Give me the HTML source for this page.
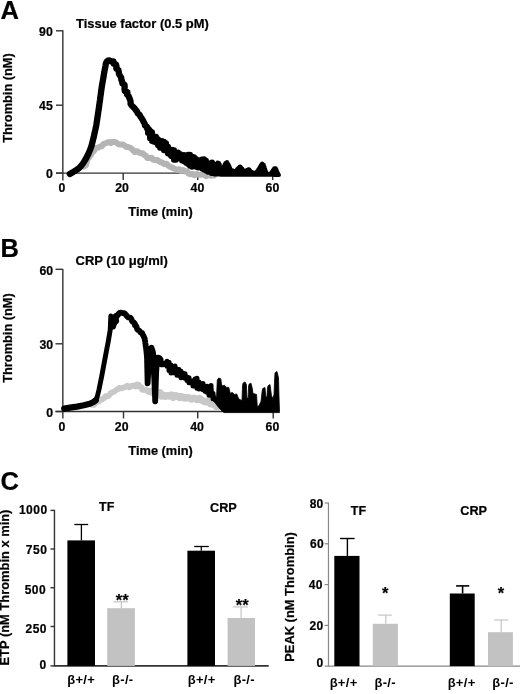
<!DOCTYPE html>
<html><head><meta charset="utf-8"><style>
html,body{margin:0;padding:0;background:#fff;}
svg{display:block;filter:grayscale(1);}
text{font-family:"Liberation Sans",sans-serif;font-weight:bold;fill:#000;stroke:#000;stroke-width:0.22px;}
</style></head><body>
<svg width="520" height="694" viewBox="0 0 520 694">
<text x="0.6" y="19.0" font-size="25.5" text-anchor="start" >A</text>
<text x="76" y="27.9" font-size="12.95" text-anchor="start" >Tissue factor (0.5 pM)</text>
<line x1="62.85" y1="30.3" x2="62.85" y2="180.5" stroke="#333" stroke-width="1.4"/>
<line x1="56" y1="30.8" x2="62.85" y2="30.8" stroke="#333" stroke-width="1.4"/>
<line x1="56" y1="105.2" x2="62.85" y2="105.2" stroke="#333" stroke-width="1.4"/>
<line x1="56" y1="173.1" x2="62.85" y2="173.1" stroke="#333" stroke-width="1.4"/>
<line x1="56" y1="173.1" x2="278" y2="173.1" stroke="#333" stroke-width="1.4"/>
<line x1="123.2" y1="173.1" x2="123.2" y2="180" stroke="#333" stroke-width="1.4"/>
<line x1="197.7" y1="173.1" x2="197.7" y2="180" stroke="#333" stroke-width="1.4"/>
<line x1="272.7" y1="173.1" x2="272.7" y2="180" stroke="#333" stroke-width="1.4"/>
<text x="52.8" y="35.9" font-size="12.3" text-anchor="end" >90</text>
<text x="52.8" y="110" font-size="12.3" text-anchor="end" >45</text>
<text x="52.8" y="177.9" font-size="12.3" text-anchor="end" >0</text>
<text x="62" y="192.3" font-size="12.3" text-anchor="middle" >0</text>
<text x="122" y="192.3" font-size="12.3" text-anchor="middle" >20</text>
<text x="197.4" y="192.3" font-size="12.3" text-anchor="middle" >40</text>
<text x="272.4" y="192.3" font-size="12.3" text-anchor="middle" >60</text>
<text x="160.6" y="215.8" font-size="12.8" text-anchor="middle" >Time (min)</text>
<text x="0" y="0" font-size="12.8" text-anchor="middle" transform="translate(12.4,98) rotate(-90)">Thrombin (nM)</text>
<polyline points="84.0,166.5 85.9,165.3 86.3,163.2 87.1,161.4 87.1,159.1 88.9,157.8 89.9,156.0 91.2,154.5 92.1,152.7 93.6,151.3 94.8,149.7 95.9,147.9 98.2,147.6 99.9,146.6 101.8,146.1 103.2,144.3 105.0,143.5 106.9,142.8 108.8,141.9 111.0,143.1 113.0,141.7 115.0,142.0 116.9,142.9 118.5,144.3 120.6,144.4 122.7,144.5 124.5,145.4 126.1,146.9 128.1,147.1 130.1,147.7 131.7,148.9 133.2,150.4 134.6,152.0 137.3,151.2 138.9,152.5 140.7,153.3 142.9,153.3 144.3,155.0 146.1,155.9 147.3,158.0 149.5,157.9 151.7,157.8 153.1,159.7 155.2,159.9 157.4,159.9 158.9,161.3 160.8,162.2 162.7,162.8 164.3,164.1 166.6,163.7 168.0,165.4 169.7,166.7 171.6,167.3 173.4,168.2 175.2,169.0 177.0,170.0 179.4,169.2 180.9,170.9 183.3,170.1 185.0,171.4 187.1,171.3 188.5,173.6 190.4,174.3 192.6,173.7 194.4,175.2 196.6,174.0 198.5,174.7 200.5,174.8 202.6,174.2 204.5,175.2 206.5,176.2 208.5,174.6 210.5,175.8 212.5,175.3 214.0,175.5" fill="none" stroke="#b4b4b4" stroke-width="6" stroke-linejoin="round" stroke-linecap="round" />
<polyline points="69.8,174.0 71.5,173.0 73.3,172.0 74.9,170.9 76.6,169.8 78.3,168.8 79.8,167.4 81.1,165.9 82.3,164.3 83.5,162.7 84.5,161.0 85.6,159.3 86.5,157.5 87.4,155.8 88.3,154.0 89.1,152.1 89.9,150.3 90.6,148.4 91.3,146.5 91.8,144.6 92.3,142.7 92.8,140.7 93.3,138.8 93.8,136.9 94.2,134.9 94.6,133.0 95.1,131.0 95.5,129.0 95.9,127.1 96.3,125.1 96.6,123.2 96.9,121.2 97.2,119.2 97.5,117.2 97.8,115.2 98.1,113.3 98.4,111.3 98.7,109.3 99.0,107.3 99.2,105.4 99.5,103.4 99.8,101.4 100.1,99.4 100.3,97.4 100.6,95.4 100.9,93.5 101.1,91.5 101.4,89.5 101.7,87.5 102.0,85.5 102.3,83.6 102.7,81.6 103.0,79.6 103.4,77.7 103.7,75.7 104.0,73.7 104.4,71.7 104.7,69.8 105.1,67.8 105.5,65.8 105.8,63.9 106.5,62.0 107.8,60.6 109.6,60.4 111.4,61.4 113.5,61.5 113.8,63.7 116.0,64.4 116.5,66.4 116.3,68.6 118.4,70.0 118.8,72.0 119.0,74.0 120.0,75.8 121.2,77.5 121.3,79.6 122.1,81.4 122.4,83.5 124.5,84.7 124.7,86.8 124.5,89.0 124.8,91.1 127.4,92.2 127.0,94.5 128.6,96.0 129.3,97.9 130.1,99.7 130.6,101.7 130.6,103.9 131.7,105.6 133.3,107.0 134.7,108.4 135.8,110.1 137.1,111.6 137.8,113.5 139.6,114.8 140.4,116.6 141.6,118.2 142.7,119.9 143.5,121.7 144.6,123.4 145.0,125.5 146.9,126.7 147.2,128.9 149.3,129.9 150.5,131.4 151.4,133.3 152.5,135.0 153.6,136.6 154.2,138.7 155.4,140.3 156.9,141.7 158.5,142.9 159.7,144.5 160.4,146.6 162.4,147.5 164.5,148.2 165.8,149.7 167.3,150.9 168.2,153.0 170.2,153.7 171.2,156.0 173.4,156.1 174.0,156.0" fill="none" stroke="#000" stroke-width="6.3" stroke-linejoin="round" stroke-linecap="round" />
<path d="M148.00 128.62V133.10M150.00 131.95V138.33M152.00 132.28V140.90M154.00 137.88V141.81M156.00 136.69V142.44M158.00 139.14V145.20M160.00 141.95V147.69M162.00 140.98V148.08M164.00 141.75V150.21M166.00 143.28V149.00M168.00 146.80V153.40M170.00 150.56V154.32M172.00 149.86V156.03M174.00 150.13V159.80M176.00 152.73V159.79M178.00 152.58V157.85M180.00 153.98V157.88M182.00 155.90V160.54M184.00 155.01V161.14M186.00 155.89V162.64M188.00 154.65V164.07M190.00 154.86V165.69M192.00 156.83V166.65M194.00 157.31V165.13M196.00 159.10V166.74M198.00 159.99V167.43M200.00 160.43V166.53M202.00 159.46V168.54M204.00 159.25V169.52M206.00 160.86V170.46M208.00 163.26V171.79M210.00 166.31V170.66M212.00 162.58V172.98" stroke="#000" stroke-width="6" stroke-linecap="round" fill="none"/>
<path d="M211.00 163.53V173.72M211.80 163.72V173.90M212.60 163.91V174.07M213.40 164.20V174.25M214.20 164.60V174.42M215.00 165.00V174.60M215.80 164.20V174.60M216.60 163.40V174.61M217.40 162.60V174.61M218.20 162.78V174.61M219.00 163.10V174.62M219.80 164.28V174.62M220.60 166.89V174.63M221.40 168.20V174.63M222.20 168.20V174.63M223.00 168.20V174.64M223.80 166.24V174.64M224.60 164.28V174.64M225.40 163.04V174.65M226.20 162.52V174.65M227.00 162.00V174.66M227.80 163.20V174.66M228.60 164.40V174.66M229.40 165.98V174.67M230.20 167.94V174.67M231.00 169.90V174.67M231.80 170.22V174.68M232.60 170.54V174.68M233.40 170.86V174.69M234.20 171.18V174.69M235.00 171.50V174.69M235.80 170.62V174.70M236.60 169.74V174.70M237.40 168.86V174.70M238.20 168.01V174.71M239.00 167.25V174.71M239.80 166.49V174.72M240.60 166.87V174.72M241.40 167.63V174.72M242.20 168.53V174.73M243.00 169.85V174.73M243.80 171.17V174.73M244.60 171.18V174.74M245.40 170.75V174.74M246.20 170.33V174.75M247.00 169.90V174.75M247.80 169.54V174.75M248.60 169.18V174.76M249.40 169.50V174.76M250.20 170.50V174.76M251.00 171.50V174.77M251.80 171.93V174.77M252.60 172.35V174.78M253.40 172.78V174.78M254.20 172.99V174.78M255.00 172.57V174.79M255.80 172.14V174.79M256.60 171.71V174.79M257.40 170.85V174.80M258.20 169.54V174.80M259.00 168.23V174.81M259.80 166.93V174.81M260.60 165.61V174.81M261.40 164.29V174.82M262.20 163.47V174.82M263.00 164.15V174.82M263.80 164.83V174.83M264.60 166.95V174.83M265.40 169.55V174.84M266.20 171.83V174.84M267.00 173.15V174.84M267.80 174.47V174.85M268.60 174.56V174.85M269.40 174.24V174.85M270.20 173.75V174.86M271.00 172.75V174.86M271.80 171.75V174.87M272.60 170.51V174.87M273.40 169.19V174.87M274.20 168.20V174.88M275.00 168.20V174.88M275.80 168.20V174.88M276.60 169.67V174.89M277.40 171.63V174.89M278.20 173.55V174.89M279.00 175.11V175.11" stroke="#000" stroke-width="4" stroke-linecap="round" fill="none"/>
<text x="0.6" y="257.0" font-size="25.5" text-anchor="start" >B</text>
<text x="75.5" y="265.1" font-size="13.0" text-anchor="start" >CRP (10 μg/ml)</text>
<line x1="62.85" y1="269" x2="62.85" y2="418.5" stroke="#333" stroke-width="1.4"/>
<line x1="55.5" y1="269.3" x2="62.85" y2="269.3" stroke="#333" stroke-width="1.4"/>
<line x1="55.5" y1="343.8" x2="62.85" y2="343.8" stroke="#333" stroke-width="1.4"/>
<line x1="55.5" y1="411.5" x2="62.85" y2="411.5" stroke="#333" stroke-width="1.4"/>
<line x1="55.5" y1="411.5" x2="278" y2="411.5" stroke="#333" stroke-width="1.4"/>
<line x1="123.5" y1="411.5" x2="123.5" y2="418.5" stroke="#333" stroke-width="1.4"/>
<line x1="197.7" y1="411.5" x2="197.7" y2="418.5" stroke="#333" stroke-width="1.4"/>
<line x1="273.2" y1="411.5" x2="273.2" y2="418.5" stroke="#333" stroke-width="1.4"/>
<text x="53.1" y="275.1" font-size="12.3" text-anchor="end" >60</text>
<text x="53.1" y="348.6" font-size="12.3" text-anchor="end" >30</text>
<text x="53.1" y="416.6" font-size="12.3" text-anchor="end" >0</text>
<text x="62" y="431.2" font-size="12.3" text-anchor="middle" >0</text>
<text x="121.7" y="431.2" font-size="12.3" text-anchor="middle" >20</text>
<text x="197" y="431.2" font-size="12.3" text-anchor="middle" >40</text>
<text x="272.4" y="431.2" font-size="12.3" text-anchor="middle" >60</text>
<text x="160.6" y="455" font-size="12.8" text-anchor="middle" >Time (min)</text>
<text x="0" y="0" font-size="12.8" text-anchor="middle" transform="translate(12.4,338) rotate(-90)">Thrombin (nM)</text>
<polyline points="92.0,404.8 94.2,404.8 95.5,402.8 97.4,402.1 99.2,401.3 100.6,399.7 102.6,399.1 104.3,398.1 105.4,396.1 107.9,396.3 109.4,395.0 110.6,393.2 112.4,392.3 114.3,391.6 115.8,390.2 117.7,389.3 119.2,387.9 121.6,388.3 123.4,387.5 125.3,387.1 127.1,385.7 129.4,387.3 131.2,386.0 133.1,385.4 135.5,386.5 137.0,384.4 138.9,384.8 139.4,386.9 141.5,387.2 142.3,389.9 144.5,389.6 146.5,390.0 148.1,391.6 150.4,390.6 152.0,392.4 154.4,391.4 156.1,392.7 158.1,392.9 159.7,395.0 161.7,395.5 163.8,394.5 165.7,395.4 167.8,395.1 169.7,395.9 171.8,395.4 173.8,395.1 175.8,395.3 177.6,396.9 179.5,398.3 181.6,397.3 183.6,397.0 185.5,398.7 187.6,397.9 189.6,398.0 191.5,398.4 193.5,398.6 195.5,398.8 197.6,398.5 199.4,400.0 201.4,400.1 203.2,401.3 205.3,400.9 207.5,400.6 209.1,402.2 210.5,403.9 212.8,403.7 214.8,404.4 216.4,405.6 217.0,407.0" fill="none" stroke="#c8c8c8" stroke-width="5.8" stroke-linejoin="round" stroke-linecap="round" />
<polyline points="150.0,391.5 151.9,392.1 153.7,393.2 156.2,391.7 158.0,392.6 160.0,392.5 161.4,396.1 163.5,395.8 165.4,396.4 167.5,395.8 169.4,396.2 171.6,395.0 173.3,397.4 175.6,395.6 177.5,396.2 179.5,396.7 181.5,396.6 183.4,397.9 185.4,397.4 187.4,397.7 189.4,397.8 191.2,399.2 193.4,398.2 195.3,398.8 197.2,399.6 199.5,398.5 201.3,399.8 203.1,400.9 204.9,401.8 207.0,401.7 209.1,401.7 210.4,403.8 212.6,403.6 214.3,404.8 215.8,406.1 217.0,407.0" fill="none" stroke="#c8c8c8" stroke-width="7.2" stroke-linejoin="round" stroke-linecap="round" />
<polyline points="64.2,408.6 70.0,407.6 77.0,406.6 84.0,405.3 89.8,403.8 93.5,402.0 95.8,400.2" fill="none" stroke="#000" stroke-width="6.2" stroke-linejoin="round" stroke-linecap="round" />
<polyline points="95.8,400.2 97.3,396.5 98.9,390.0 101.8,375.8 104.4,361.8 106.2,352.3 108.3,341.2 110.2,330.0 110.8,316.0 112.1,317.4 113.4,327.0 115.0,322.2" fill="none" stroke="#000" stroke-width="4.9" stroke-linejoin="round" stroke-linecap="round" />
<polyline points="115.0,322.2 116.3,321.0 115.8,319.3 116.1,317.8 115.8,315.9 117.8,315.3 118.5,313.9 119.6,312.9 121.1,312.7 122.4,313.1 124.1,313.1 125.3,314.1 126.3,315.2 127.2,316.5 128.4,317.4 130.2,317.6 131.3,318.7 131.7,320.4 132.4,321.7 133.8,322.4 134.9,323.6 134.9,325.3 136.3,326.2 136.7,327.7 137.2,329.2 138.4,330.2 139.7,331.1 140.5,332.4 142.1,333.0 142.6,334.5 143.5,335.8 144.0,337.2 144.7,338.5 144.8,340.1 145.2,341.5 145.3,343.0 145.6,344.5 145.7,346.0 146.0,347.5 146.2,349.0 146.3,350.4 146.5,351.9 146.6,353.4 146.8,354.9 146.9,356.4 147.0,357.9 147.1,359.4 147.1,360.9 147.1,362.4 147.2,363.9 147.2,365.4 147.2,366.9 147.3,368.4 147.3,369.9 147.3,371.4 147.4,372.9 147.4,374.4 147.4,375.9 147.5,377.4 147.5,378.9 147.5,380.4 147.6,381.9 147.6,383.4 147.7,383.1 147.7,381.6 147.8,380.1 147.9,378.6 148.0,377.1 148.1,375.6 148.2,374.1 148.3,372.6 148.3,371.1 148.4,369.6 148.5,368.1 148.6,366.6 148.7,365.1 148.9,363.6 149.0,362.1 149.2,360.6 149.3,359.2 149.5,357.7 149.6,356.2 149.8,354.7 149.9,353.2 150.1,351.7 150.2,350.2 150.6,348.8 151.4,347.7 151.9,349.1 152.4,350.5 152.9,351.9 153.1,353.4 153.1,354.9 153.2,356.4 153.3,357.9 153.3,359.4 153.4,360.9 153.5,362.4 153.6,363.9 153.6,365.4 153.7,366.9 153.8,368.4 153.8,369.9 153.9,371.4 154.0,372.9 154.1,374.4 154.1,375.9 154.2,377.4 154.3,378.9 154.3,380.4 154.4,381.9 154.5,383.4 154.5,384.9 154.6,386.4 154.6,387.9 154.7,389.4 154.8,390.8 154.8,392.3 154.9,393.8 155.0,395.3 155.0,396.8 155.1,398.3 155.1,399.8 155.2,401.3 155.2,400.2 155.3,398.7 155.3,397.2 155.4,395.7 155.4,394.2 155.5,392.7 155.5,391.2 155.6,389.7 155.6,388.2 155.7,386.7 155.7,385.2 155.8,383.7 155.8,382.2 155.9,380.7 155.9,379.2 156.0,377.7 156.0,376.2 156.1,374.7 156.1,373.2 156.2,371.7 156.3,370.2 156.4,368.7 156.5,367.2 156.7,365.7 156.8,364.2 156.9,362.7 157.0,361.2 157.1,359.7 157.2,358.2 158.1,357.7 159.4,358.0" fill="none" stroke="#000" stroke-width="5.8" stroke-linejoin="round" stroke-linecap="round" />
<path d="M157.00 357.35V363.18M159.00 358.55V363.08M161.00 359.60V364.64M163.00 364.27V364.84M165.00 363.08V363.08M167.00 361.37V366.14M169.00 362.22V370.40M171.00 365.09V373.05M173.00 366.25V372.72M175.00 366.07V372.85M177.00 369.11V375.35M179.00 369.62V375.47M181.00 371.23V377.76M183.00 373.15V376.69M185.00 373.86V378.29M187.00 376.97V380.45M189.00 377.80V382.82M191.00 381.19V382.63M193.00 380.75V385.92M195.00 378.99V386.19M197.00 378.37V388.25M199.00 381.90V389.01M201.00 383.99V387.41M203.00 383.61V389.83M205.00 387.60V391.37M207.00 386.25V392.37M209.00 387.42V395.16M211.00 385.60V395.22M213.00 393.47V398.77" stroke="#000" stroke-width="5" stroke-linecap="round" fill="none"/>
<polygon points="212.0,384.5 213.6,392.5 216.5,398.0 217.3,380.0 218.7,378.0 220.8,378.8 221.5,384.0 222.3,386.0 224.4,385.2 226.6,387.4 228.8,387.4 230.2,393.2 232.4,392.5 234.5,394.6 236.7,393.9 238.8,399.0 242.0,400.5 242.5,386.0 243.0,383.2 245.0,381.9 246.4,384.5 246.9,398.0 248.1,398.0 248.6,386.0 249.2,384.0 251.0,383.2 252.2,388.0 253.0,393.5 256.5,394.4 257.3,406.5 259.0,405.7 261.0,401.3 262.2,391.0 262.8,388.4 265.0,387.5 265.4,392.0 265.9,397.0 267.0,397.0 267.5,388.0 268.0,385.8 270.0,384.5 271.0,392.0 271.5,396.1 273.0,397.9 274.0,394.4 274.6,380.0 275.0,372.8 277.0,371.5 278.5,378.0 279.0,397.0 279.5,411.7 279.5,412.6 224.0,412.6 222.0,411.0 218.7,407.6 215.0,402.7 212.0,399.8" fill="#000" stroke="#000" stroke-width="0.8" stroke-linejoin="round"/>
<text x="0.6" y="490.0" font-size="25.5" text-anchor="start" >C</text>
<line x1="54.46" y1="509.8" x2="54.46" y2="666.5" stroke="#333" stroke-width="1.4"/>
<line x1="50.5" y1="510.4" x2="54.46" y2="510.4" stroke="#333" stroke-width="1.4"/>
<line x1="50.5" y1="549" x2="54.46" y2="549" stroke="#333" stroke-width="1.4"/>
<line x1="50.5" y1="587.7" x2="54.46" y2="587.7" stroke="#333" stroke-width="1.4"/>
<line x1="50.5" y1="626.5" x2="54.46" y2="626.5" stroke="#333" stroke-width="1.4"/>
<line x1="50.5" y1="665.9" x2="54.46" y2="665.9" stroke="#333" stroke-width="1.4"/>
<line x1="54.46" y1="665.9" x2="268.7" y2="665.9" stroke="#333" stroke-width="1.6"/>
<text x="47.6" y="513.6" font-size="12" text-anchor="end" letter-spacing="0.5">1000</text>
<text x="47.4" y="554" font-size="12" text-anchor="end" letter-spacing="0.5">750</text>
<text x="46.2" y="593.7" font-size="12" text-anchor="end" letter-spacing="0.5">500</text>
<text x="47.0" y="632.8" font-size="12" text-anchor="end" letter-spacing="0.5">250</text>
<text x="46.8" y="668.7" font-size="12" text-anchor="end" letter-spacing="0.5">0</text>
<text x="0" y="0" font-size="12.9" text-anchor="start" transform="translate(9.3,665.5) rotate(-90)">ETP (nM Thrombin x min)</text>
<text x="106.7" y="511.4" font-size="12.5" text-anchor="middle" >TF</text>
<text x="223.4" y="512" font-size="12.7" text-anchor="middle" >CRP</text>
<line x1="81.4" y1="540.5" x2="81.4" y2="524.5" stroke="#000" stroke-width="1.3"/>
<line x1="74.3" y1="524.5" x2="88.2" y2="524.5" stroke="#000" stroke-width="1.3"/>
<rect x="67.4" y="540.4" width="27.599999999999994" height="125.5" fill="#000"/>
<line x1="121.4" y1="608.3" x2="121.4" y2="601.8" stroke="#c4c4c4" stroke-width="1.2"/>
<line x1="113.3" y1="601.8" x2="128.2" y2="601.8" stroke="#c4c4c4" stroke-width="1.2"/>
<rect x="107.2" y="608.2" width="27.700000000000003" height="57.69999999999993" fill="#c2c2c2"/>
<line x1="201.3" y1="550.8" x2="201.3" y2="546.5" stroke="#000" stroke-width="1.3"/>
<line x1="194.2" y1="546.5" x2="208.8" y2="546.5" stroke="#000" stroke-width="1.3"/>
<rect x="187.4" y="550.7" width="27.599999999999994" height="115.19999999999993" fill="#000"/>
<line x1="241.1" y1="618" x2="241.1" y2="606.9" stroke="#c4c4c4" stroke-width="1.2"/>
<line x1="232.8" y1="606.9" x2="247.8" y2="606.9" stroke="#c4c4c4" stroke-width="1.2"/>
<rect x="227.6" y="618" width="27.400000000000006" height="47.89999999999998" fill="#c2c2c2"/>
<text x="122.2" y="605.8" font-size="16.5" text-anchor="middle" >**</text>
<text x="242.2" y="610.9" font-size="16.5" text-anchor="middle" >**</text>
<text x="81.2" y="684.3" font-size="13" text-anchor="middle" letter-spacing="0.3" style="stroke-width:0">β+/+</text>
<text x="122.8" y="684.3" font-size="13" text-anchor="middle" letter-spacing="0.3" style="stroke-width:0">β-/-</text>
<text x="201.7" y="684.3" font-size="13" text-anchor="middle" letter-spacing="0.3" style="stroke-width:0">β+/+</text>
<text x="244.1" y="684.3" font-size="13" text-anchor="middle" letter-spacing="0.3" style="stroke-width:0">β-/-</text>
<line x1="328.46" y1="502.6" x2="328.46" y2="666.5" stroke="#888" stroke-width="1.2"/>
<line x1="324.6" y1="503" x2="328.46" y2="503" stroke="#888" stroke-width="1.2"/>
<line x1="324.6" y1="543.8" x2="328.46" y2="543.8" stroke="#888" stroke-width="1.2"/>
<line x1="324.6" y1="584.6" x2="328.46" y2="584.6" stroke="#888" stroke-width="1.2"/>
<line x1="324.6" y1="625.4" x2="328.46" y2="625.4" stroke="#888" stroke-width="1.2"/>
<line x1="324.6" y1="666.1" x2="328.46" y2="666.1" stroke="#888" stroke-width="1.2"/>
<line x1="328.46" y1="666.1" x2="520" y2="666.1" stroke="#888" stroke-width="1.3"/>
<text x="323.6" y="508" font-size="12" text-anchor="end" letter-spacing="0.3">80</text>
<text x="324" y="548.4" font-size="12" text-anchor="end" letter-spacing="0.3">60</text>
<text x="322.8" y="589.2" font-size="12" text-anchor="end" letter-spacing="0.3">40</text>
<text x="323.4" y="630.3" font-size="12" text-anchor="end" letter-spacing="0.3">20</text>
<text x="323.4" y="667" font-size="12" text-anchor="end" letter-spacing="0.3">0</text>
<text x="0" y="0" font-size="12.9" text-anchor="start" transform="translate(293.8,661.8) rotate(-90)">PEAK (nM Thrombin)</text>
<text x="358.4" y="514.7" font-size="12.5" text-anchor="middle" >TF</text>
<text x="473.7" y="515" font-size="12.7" text-anchor="middle" >CRP</text>
<line x1="347.4" y1="556" x2="347.4" y2="538.5" stroke="#000" stroke-width="1.4"/>
<line x1="340.1" y1="538.5" x2="354.6" y2="538.5" stroke="#000" stroke-width="1.4"/>
<rect x="334.3" y="555.9" width="25.19999999999999" height="110.20000000000005" fill="#000"/>
<line x1="385.8" y1="623.8" x2="385.8" y2="615.1" stroke="#c4c4c4" stroke-width="1.2"/>
<line x1="378.1" y1="615.1" x2="391.9" y2="615.1" stroke="#c4c4c4" stroke-width="1.2"/>
<rect x="372.8" y="623.8" width="25.099999999999966" height="42.30000000000007" fill="#c2c2c2"/>
<line x1="462.6" y1="593.5" x2="462.6" y2="585.9" stroke="#000" stroke-width="1.6"/>
<line x1="456.1" y1="585.9" x2="469.2" y2="585.9" stroke="#000" stroke-width="1.6"/>
<rect x="449.8" y="593.5" width="24.899999999999977" height="72.60000000000002" fill="#000"/>
<line x1="501.2" y1="632.2" x2="501.2" y2="620" stroke="#c4c4c4" stroke-width="1.2"/>
<line x1="494.1" y1="620" x2="508.2" y2="620" stroke="#c4c4c4" stroke-width="1.2"/>
<rect x="488" y="632.2" width="24.899999999999977" height="33.89999999999998" fill="#c2c2c2"/>
<text x="385.3" y="598.6" font-size="16.5" text-anchor="middle" >*</text>
<text x="500.9" y="598.8" font-size="16.5" text-anchor="middle" >*</text>
<text x="343.6" y="686.8" font-size="13" text-anchor="middle" letter-spacing="0.3" style="stroke-width:0">β+/+</text>
<text x="385.2" y="686.8" font-size="13" text-anchor="middle" letter-spacing="0.3" style="stroke-width:0">β-/-</text>
<text x="461.6" y="686.8" font-size="13" text-anchor="middle" letter-spacing="0.3" style="stroke-width:0">β+/+</text>
<text x="503" y="686.8" font-size="13" text-anchor="middle" letter-spacing="0.3" style="stroke-width:0">β-/-</text>
</svg>
</body></html>
